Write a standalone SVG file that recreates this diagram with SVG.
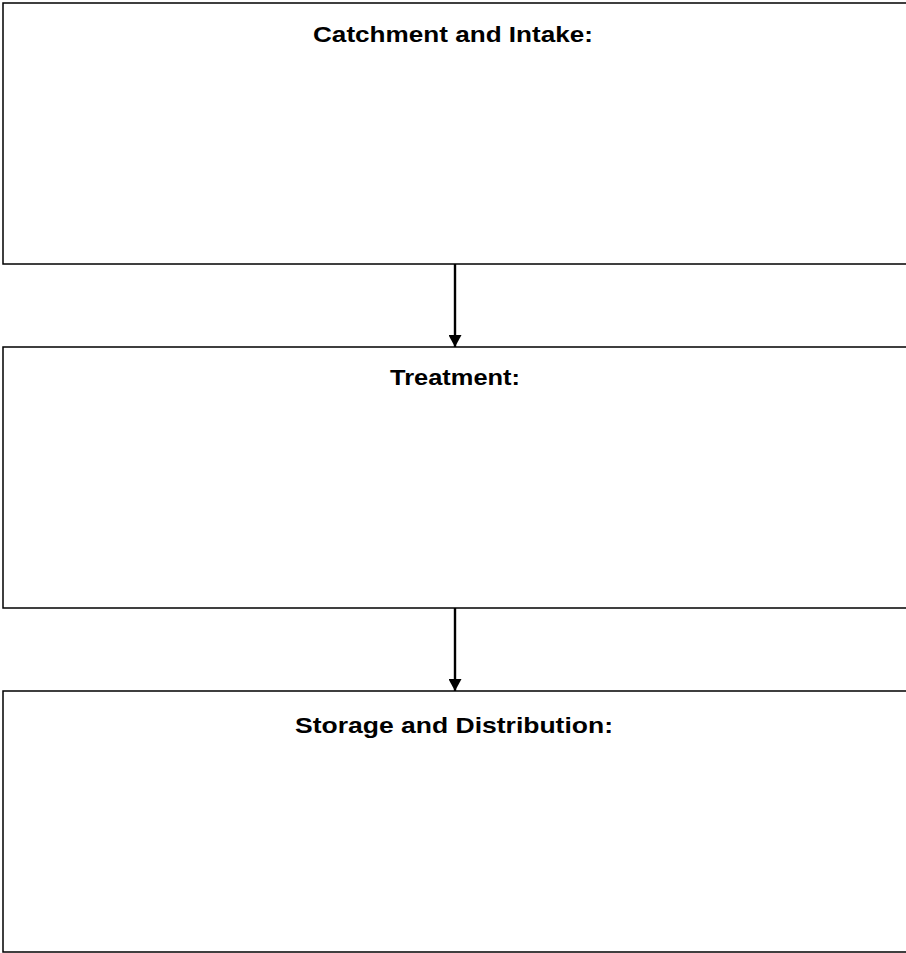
<svg xmlns="http://www.w3.org/2000/svg" width="906" height="953" viewBox="0 0 906 953">
<defs>
<style>
.box{fill:#fff;stroke:#000;stroke-width:1.5}
.lbl{font-family:"Liberation Sans",Arial,sans-serif;font-weight:bold;font-size:22px;text-anchor:middle;fill:#000}
.conn{stroke:#000;stroke-width:2.4;fill:none}
</style>
<marker id="ah" markerWidth="12" markerHeight="13" viewBox="0 0 12 13" refX="12" refY="6.5" orient="auto" markerUnits="userSpaceOnUse">
<path d="M0,0 L12,6.5 L0,13 Z" fill="#000"/>
</marker>
</defs>
<rect width="906" height="953" fill="#fff"/>
<g id="catchment"><rect class="box" x="3" y="3" width="920" height="261"/><text class="lbl" x="453" y="42" textLength="280" lengthAdjust="spacingAndGlyphs">Catchment and Intake:</text></g>
<g id="treatment"><rect class="box" x="3" y="347" width="920" height="261"/><text class="lbl" x="455" y="385" textLength="130" lengthAdjust="spacingAndGlyphs">Treatment:</text></g>
<g id="storage"><rect class="box" x="3" y="691" width="920" height="261"/><text class="lbl" x="454" y="733" textLength="318" lengthAdjust="spacingAndGlyphs">Storage and Distribution:</text></g>
<g id="connectors">
<line class="conn" x1="455" y1="264" x2="455" y2="347" marker-end="url(#ah)"/>
<line class="conn" x1="455" y1="608" x2="455" y2="691" marker-end="url(#ah)"/>
</g>
</svg>
